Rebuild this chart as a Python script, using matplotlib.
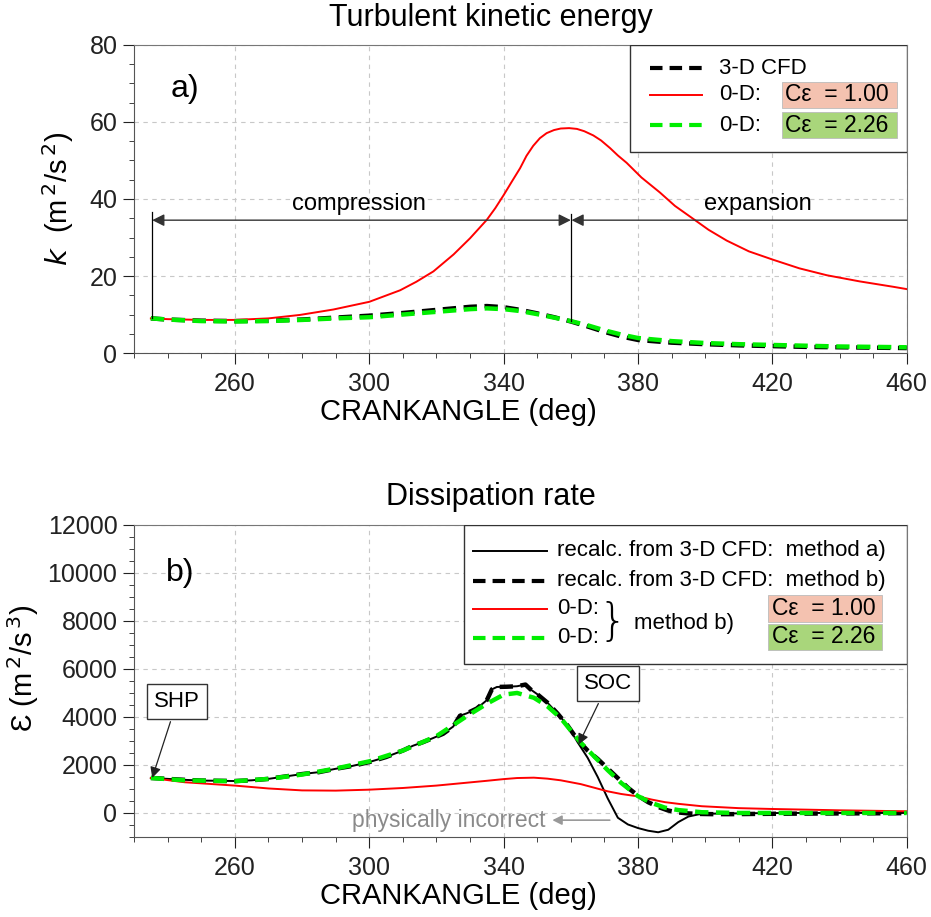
import matplotlib
matplotlib.use("Agg")
import matplotlib.pyplot as plt
from matplotlib.ticker import FixedLocator, MultipleLocator
from matplotlib.patches import Rectangle
from matplotlib.lines import Line2D

plt.rcParams['font.family'] = ['Liberation Sans', 'DejaVu Sans']

# --- a) turbulent kinetic energy ---
deg_k_red = [235, 240, 250, 260, 270, 279.4, 289.3, 300, 309.2, 314, 319.1, 325.1, 330, 335,
             337.5, 340, 342.5, 344.9, 346.8, 348.8, 350.8, 352.8, 355, 357, 359.5, 361.8,
             364, 366.7, 369, 371.7, 374, 376.6, 381, 386.5, 391, 396.5, 401, 406.4, 413,
             420.3, 428, 436.2, 446, 456, 460]
k_red = [9.0, 8.8, 8.6, 8.6, 9.0, 9.9, 11.3, 13.3, 16.3, 18.5, 21.2, 25.6, 29.8, 34.6,
         37.6, 41.0, 44.6, 48.0, 51.2, 53.8, 55.8, 57.1, 57.9, 58.3, 58.4, 58.2,
         57.6, 56.5, 55.2, 53.2, 51.3, 49.4, 45.6, 41.7, 38.2, 34.8, 32.0, 29.2, 26.4,
         24.2, 22.0, 20.2, 18.6, 17.2, 16.6]

deg_k = [235, 240, 250, 260, 270, 280, 290, 300, 310, 320, 330, 335, 340, 345, 350, 355,
         360, 365, 370, 375, 380, 390, 400, 410, 420, 430, 440, 450, 460]
k_cfd = [9.0, 8.7, 8.4, 8.3, 8.4, 8.7, 9.2, 9.7, 10.4, 11.2, 12.0, 12.2, 11.9, 11.2, 10.3, 9.3,
         8.2, 6.9, 5.5, 4.3, 3.4, 2.7, 2.3, 2.0, 1.8, 1.6, 1.5, 1.4, 1.3]
k_0d_226 = [9.0, 8.7, 8.3, 8.2, 8.3, 8.6, 9.0, 9.3, 10.0, 10.7, 11.4, 11.6, 11.4, 10.9, 10.1, 9.2,
            8.3, 7.2, 5.9, 4.8, 3.9, 3.1, 2.6, 2.3, 2.1, 1.9, 1.7, 1.6, 1.5]

# --- b) dissipation rate ---
deg_eps_0d = [235, 245, 260, 270, 280, 290, 300, 310, 320, 329, 335, 340, 344, 349, 353, 357,
              363, 367, 371, 375, 380, 384, 388, 392, 399, 410, 420, 440, 460]
eps_0d_100 = [1458, 1280, 1140, 1020, 940, 930, 970, 1040, 1140, 1260, 1340, 1410, 1455, 1470,
              1430, 1360, 1200, 1050, 900, 790, 690, 560, 450, 380, 280, 200, 165, 110, 70]
eps_0d_226 = [1458, 1360, 1320, 1420, 1600, 1850, 2150, 2600, 3200, 4030, 4550, 4930, 5000, 4800,
              4450, 3950, 2920, 2350, 1780, 1250, 700, 420, 220, 120, 30, 0, 0, 0, 0]

deg_eps_cfd = [235, 240, 245, 250, 255, 260, 265, 270, 275, 280, 285, 290, 295, 300, 305, 310,
               313, 316, 319, 322, 325, 327, 329, 332, 335, 336.5, 338, 341, 344, 346.5, 348,
               350, 353, 356, 359, 362, 365, 368, 371, 374, 377, 380, 383, 386, 389, 392, 395,
               398, 402, 408, 415, 425, 440, 460]
eps_method_b = [1458, 1420, 1380, 1350, 1340, 1330, 1360, 1420, 1520, 1620, 1700, 1840, 1960,
                2120, 2330, 2600, 2800, 2950, 3120, 3300, 3600, 4050, 4150, 4350, 4700, 5150,
                5250, 5260, 5280, 5350, 5150, 4950, 4600, 4150, 3650, 3050, 2600, 2250, 1850,
                1450, 1050, 720, 450, 250, 100, 20, -20, -40, -50, -50, -40, -30, -20, -10]
eps_method_a = [1458, 1420, 1380, 1350, 1340, 1330, 1360, 1420, 1520, 1620, 1700, 1840, 1960,
                2120, 2330, 2600, 2800, 2950, 3120, 3300, 3600, 4050, 4150, 4350, 4700, 5150,
                5250, 5260, 5280, 5350, 5150, 4950, 4600, 4150, 3650, 2950, 2300, 1500, 600,
                -200, -480, -630, -740, -805, -700, -380, -150, -60, -30, -20, -10, 0, 0, 0]

x_major = [260, 300, 340, 380, 420, 460]
salmon = '#f4c2b0'
lgreen = '#a9d67b'

fig = plt.figure(figsize=(9.31, 9.17), dpi=100)
ax1 = fig.add_axes([0.144, 0.615, 0.830, 0.336])
ax2 = fig.add_axes([0.144, 0.0873, 0.830, 0.3402])


def style_axes(ax):
    ax.set_xlim(230, 460)
    ax.xaxis.set_major_locator(FixedLocator(x_major))
    ax.xaxis.set_minor_locator(MultipleLocator(10))
    ax.tick_params(which='both', direction='out', labelsize=18, colors='#222222')
    ax.tick_params(which='major', length=8, pad=4)
    ax.tick_params(which='minor', length=3.5)
    ax.tick_params(axis='x', which='major', pad=6)
    ax.grid(True, which='major', linestyle=(0, (4, 4)), color='#c8c8c8', linewidth=0.8)
    ax.spines['top'].set_color('#777777')
    ax.spines['right'].set_color('#777777')
    ax.spines['left'].set_color('#555555')
    ax.spines['bottom'].set_color('#555555')
    ax.set_xlabel('CRANKANGLE (deg)', fontsize=21, labelpad=1)
    ax.xaxis.label.set_x(0.42)


# ---------- panel a ----------
ax1.plot(deg_k, k_cfd, color='black', lw=3.2, dashes=(3, 1.7))
ax1.plot(deg_k_red, k_red, color='red', lw=1.4)
ax1.plot(deg_k, k_0d_226, color='#00ee00', lw=3.2, dashes=(3, 1.7))
ax1.set_ylim(0, 80)
ax1.yaxis.set_major_locator(MultipleLocator(20))
ax1.yaxis.set_minor_locator(MultipleLocator(5))
style_axes(ax1)
ax1.set_ylabel(r'$k$  (m$^{\,2}$/s$^{\,2}$)', fontsize=21, labelpad=10)
fig.text(0.527, 0.980, 'Turbulent kinetic energy', fontsize=22, ha='center', va='center')

# compression / expansion arrows
ax1.plot([235.4, 235.4], [9, 36.5], color='black', lw=0.9)
ax1.plot([360, 360], [8.3, 36], color='black', lw=0.9)
ax1.annotate('', xy=(235.4, 34.5), xytext=(360, 34.5),
             arrowprops=dict(arrowstyle='<|-|>', color='#333333', lw=1.0, mutation_scale=18,
                             shrinkA=0, shrinkB=0))
ax1.annotate('', xy=(360.2, 34.5), xytext=(460, 34.5),
             arrowprops=dict(arrowstyle='-|>', color='#333333', lw=1.0, mutation_scale=18,
                             shrinkA=0, shrinkB=0))
ax1.text(297, 38.8, 'compression', fontsize=17, ha='center', va='center')
ax1.text(415.7, 38.8, 'expansion', fontsize=17, ha='center', va='center')
ax1.text(245, 68.5, 'a)', fontsize=23, ha='center', va='center')

# legend a
tr = ax1.transAxes
ax1.add_patch(Rectangle((0.642, 0.653), 0.358, 0.347, transform=tr, facecolor='white',
                        edgecolor='#333333', lw=1.0, zorder=5))
rows_a = [0.925, 0.838, 0.740]
ax1.add_line(Line2D([0.668, 0.735], [rows_a[0]] * 2, transform=tr, color='black', lw=3,
                    dashes=(3, 1.7), zorder=6))
ax1.add_line(Line2D([0.668, 0.735], [rows_a[1]] * 2, transform=tr, color='red', lw=1.4, zorder=6))
ax1.add_line(Line2D([0.668, 0.735], [rows_a[2]] * 2, transform=tr, color='#00ee00', lw=3,
                    dashes=(3, 1.7), zorder=6))
ax1.text(0.757, rows_a[0], '3-D CFD', transform=tr, fontsize=16, va='center', zorder=6)
ax1.text(0.757, rows_a[1], '0-D:', transform=tr, fontsize=16, va='center', zorder=6)
ax1.text(0.757, rows_a[2], '0-D:', transform=tr, fontsize=16, va='center', zorder=6)
for y, c, lab in [(rows_a[1], salmon, 'C\u03b5  = 1.00'), (rows_a[2], lgreen, 'C\u03b5  = 2.26')]:
    ax1.add_patch(Rectangle((0.838, y - 0.042), 0.149, 0.084, transform=tr, facecolor=c,
                            edgecolor='#bbbbbb', lw=0.6, zorder=6))
    ax1.text(0.843, y, lab, transform=tr, fontsize=16.5, va='center', zorder=7)

# ---------- panel b ----------
ax2.plot(deg_eps_cfd, eps_method_a, color='black', lw=1.4)
ax2.plot(deg_eps_cfd, eps_method_b, color='black', lw=3.2, dashes=(3, 1.7))
ax2.plot(deg_eps_0d, eps_0d_100, color='red', lw=1.4)
ax2.plot(deg_eps_0d, eps_0d_226, color='#00ee00', lw=3.2, dashes=(3, 1.7))
ax2.set_ylim(-1000, 12000)
ax2.yaxis.set_major_locator(MultipleLocator(2000))
ax2.yaxis.set_minor_locator(MultipleLocator(500))
style_axes(ax2)
ax2.set_ylabel('\u0190 (m$^{\,2}$/s$^{\,3}$)', fontsize=21, labelpad=5)
ax2.yaxis.label.set_y(0.54)
fig.text(0.527, 0.458, 'Dissipation rate', fontsize=22, ha='center', va='center')
ax2.text(243.7, 10000, 'b)', fontsize=23, ha='center', va='center')

box = dict(boxstyle='square,pad=0.3', facecolor='white', edgecolor='#333333', lw=1.0)
ax2.annotate('SHP', xy=(235.4, 1458), xytext=(242.8, 4650), fontsize=16, ha='center',
             va='center', bbox=box,
             arrowprops=dict(arrowstyle='-|>', color='#222222', lw=0.9, mutation_scale=16,
                             shrinkA=2, shrinkB=0))
ax2.annotate('SOC', xy=(362.3, 2850), xytext=(371.1, 5400), fontsize=16, ha='center',
             va='center', bbox=box,
             arrowprops=dict(arrowstyle='-|>', color='#222222', lw=0.9, mutation_scale=16,
                             shrinkA=2, shrinkB=0))
ax2.annotate('', xy=(354.5, -300), xytext=(371.6, -300),
             arrowprops=dict(arrowstyle='-|>', color='#999999', lw=1.2, mutation_scale=14,
                             shrinkA=0, shrinkB=0))
ax2.text(352.5, -330, 'physically incorrect', fontsize=16.5, color='#8a8a8a', ha='right',
         va='center')

# legend b
tr2 = ax2.transAxes
ax2.add_patch(Rectangle((0.427, 0.554), 0.573, 0.446, transform=tr2, facecolor='white',
                        edgecolor='#333333', lw=1.0, zorder=5))
rows_b = [0.918, 0.821, 0.731, 0.638]
ax2.add_line(Line2D([0.439, 0.535], [rows_b[0]] * 2, transform=tr2, color='black', lw=1.4, zorder=6))
ax2.add_line(Line2D([0.439, 0.535], [rows_b[1]] * 2, transform=tr2, color='black', lw=3,
                    dashes=(3, 1.7), zorder=6))
ax2.add_line(Line2D([0.439, 0.535], [rows_b[2]] * 2, transform=tr2, color='red', lw=1.4, zorder=6))
ax2.add_line(Line2D([0.439, 0.535], [rows_b[3]] * 2, transform=tr2, color='#00ee00', lw=3,
                    dashes=(3, 1.7), zorder=6))
ax2.text(0.547, rows_b[0], 'recalc. from 3-D CFD:  method a)', transform=tr2, fontsize=16,
         va='center', zorder=6)
ax2.text(0.547, rows_b[1], 'recalc. from 3-D CFD:  method b)', transform=tr2, fontsize=16,
         va='center', zorder=6)
ax2.text(0.547, rows_b[2], '0-D:', transform=tr2, fontsize=16, va='center', zorder=6)
ax2.text(0.547, rows_b[3], '0-D:', transform=tr2, fontsize=16, va='center', zorder=6)
ax2.text(0.619, 0.686, '}', transform=tr2, fontsize=32, va='center', ha='center', zorder=6,
         family='DejaVu Sans', fontweight='light')
ax2.text(0.647, 0.684, 'method b)', transform=tr2, fontsize=16, va='center', zorder=6)
for y, c, lab in [(0.732, salmon, 'C\u03b5  = 1.00'), (0.642, lgreen, 'C\u03b5  = 2.26')]:
    ax2.add_patch(Rectangle((0.820, y - 0.042), 0.148, 0.084, transform=tr2, facecolor=c,
                            edgecolor='#bbbbbb', lw=0.6, zorder=6))
    ax2.text(0.825, y, lab, transform=tr2, fontsize=16.5, va='center', zorder=7)

fig.savefig('out.png', dpi=100)
